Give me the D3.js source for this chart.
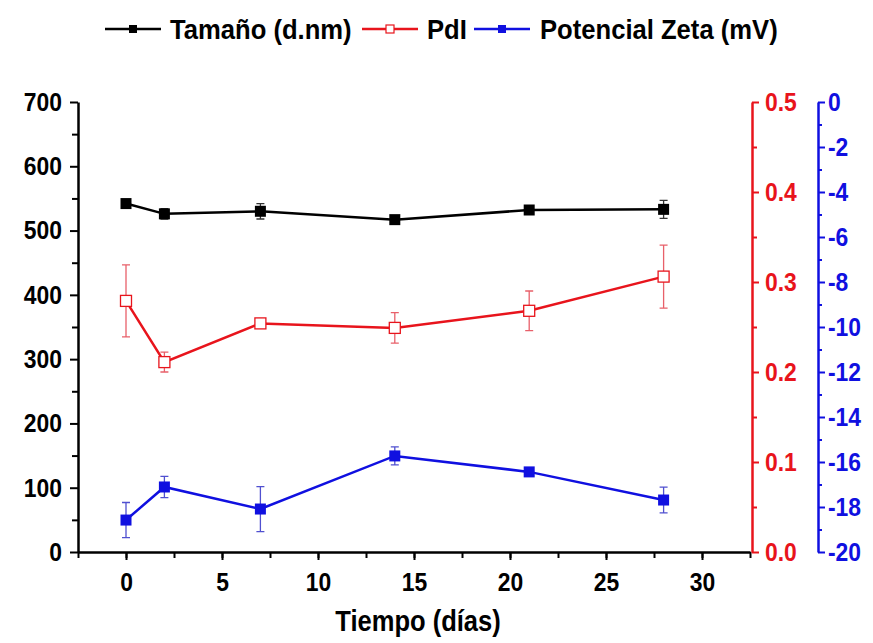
<!DOCTYPE html>
<html><head><meta charset="utf-8">
<script src="https://cdn.jsdelivr.net/npm/d3@7"></script>
<style>
body{margin:0;background:#fff;}
text{font-family:"Liberation Sans",Arial,sans-serif;font-weight:bold;}
</style></head><body>
<svg id="c" width="873" height="643"></svg>
<script>
const days = [0, 2, 7, 14, 21, 28];
const tamano = [542, 526, 530, 517, 532, 533];
const tamanoErr = [5, 8, 12, 5, 5, 14];
const pdl = [0.279, 0.211, 0.254, 0.249, 0.268, 0.306];
const pdlErr = [0.04, 0.011, 0.004, 0.017, 0.022, 0.035];
const zeta = [-18.58, -17.11, -18.09, -15.73, -16.44, -17.69];
const zetaErr = [0.78, 0.47, 1.0, 0.4, 0.1, 0.57];
const xTicks = [0, 5, 10, 15, 20, 25, 30];
const yLeftTicks = [0, 100, 200, 300, 400, 500, 600, 700];
const yRedTicks = [0, 0.1, 0.2, 0.3, 0.4, 0.5];
const yBlueTicks = [-20, -18, -16, -14, -12, -10, -8, -6, -4, -2, 0];
const legendLabels = ["Tamaño (d.nm)", "PdI", "Potencial Zeta (mV)"];

const SX = 0.88;
const svg = d3.select("#c");
const L = 78, R = 750, T = 102, B = 552;
const x = d3.scaleLinear().domain([-2.5, 32.5]).range([L, R]);
const yL = d3.scaleLinear().domain([0, 700]).range([B, T]);
const yR = d3.scaleLinear().domain([0, 0.5]).range([B, T]);
const yZ = d3.scaleLinear().domain([-20, 0]).range([B, T]);

function squeeze(sel, f) {
  const s = f || SX;
  sel.each(function() {
    const t = d3.select(this);
    const xv = +(t.attr("x") || 0);
    t.attr("x", xv / s).attr("transform", `scale(${s},1)`);
  });
}
function styleAxis(g, color) {
  g.select(".domain").attr("stroke", color).attr("stroke-width", 2.5);
  g.selectAll(".tick line").attr("stroke", color).attr("stroke-width", 2);
  g.selectAll(".tick text").attr("fill", color).style("font-size", "26px").call(squeeze);
}
function minor(g, axis, color) {
  g.call(axis).call(s => s.select(".domain").remove())
   .selectAll(".tick line").attr("stroke", color).attr("stroke-width", 2);
  g.selectAll("text").remove();
}

// x axis
const gx = svg.append("g").attr("transform", `translate(0,${B})`);
minor(gx.append("g"), d3.axisBottom(x).tickValues(d3.range(-2.5, 33, 2.5)).tickSize(6).tickSizeOuter(0), "#000");
const gxa = gx.append("g").call(d3.axisBottom(x).tickValues(xTicks).tickSize(8).tickSizeOuter(0).tickPadding(13));
styleAxis(gxa, "#000");

// left axis
const gl = svg.append("g").attr("transform", `translate(${L},0)`);
minor(gl.append("g"), d3.axisLeft(yL).tickValues(d3.range(50, 700, 100)).tickSize(6).tickSizeOuter(0), "#000");
const gla = gl.append("g").call(d3.axisLeft(yL).tickValues(yLeftTicks).tickSize(8).tickSizeOuter(0).tickPadding(8));
styleAxis(gla, "#000");

// red axis
const RX = 752;
const gr = svg.append("g").attr("transform", `translate(${RX},0)`);
minor(gr.append("g"), d3.axisRight(yR).tickValues(d3.range(0.05, 0.5, 0.1)).tickSize(5).tickSizeOuter(0), "#e8141c");
const gra = gr.append("g").call(d3.axisRight(yR).tickValues(yRedTicks).tickSize(7).tickSizeOuter(0).tickPadding(6).tickFormat(d3.format(".1f")));
styleAxis(gra, "#e8141c");

// blue axis
const BX = 818;
const gb = svg.append("g").attr("transform", `translate(${BX},0)`);
minor(gb.append("g"), d3.axisRight(yZ).tickValues(d3.range(-19, 0, 2)).tickSize(4).tickSizeOuter(0), "#1010e0");
const gba = gb.append("g").call(d3.axisRight(yZ).tickValues(yBlueTicks).tickSize(7).tickSizeOuter(0).tickPadding(3).tickFormat(d => d === 0 ? "0" : "-" + Math.abs(d)));
styleAxis(gba, "#1010e0");

// x title
svg.append("text").attr("x", 418).attr("y", 631).attr("text-anchor", "middle")
  .style("font-size", "29px").attr("fill", "#000").text("Tiempo (días)").call(squeeze);

function series(vals, errs, y, color, fill, errColor) {
  const g = svg.append("g");
  const data = days.map((d, i) => ({d, v: vals[i], e: errs[i]}));
  g.selectAll(".eb").data(data).enter().append("path")
    .attr("d", p => {
      const cx = x(p.d), t = y(p.v + p.e), b = y(p.v - p.e);
      return `M${cx - 4},${t}H${cx + 4}M${cx},${t}V${b}M${cx - 4},${b}H${cx + 4}`;
    }).attr("stroke", errColor).attr("stroke-width", 1.3).attr("fill", "none");
  g.append("path").datum(data)
    .attr("d", d3.line().x(p => x(p.d)).y(p => y(p.v)))
    .attr("stroke", color).attr("stroke-width", 2.5).attr("fill", "none");
  g.selectAll(".m").data(data).enter().append("rect")
    .attr("x", p => x(p.d) - 5.5).attr("y", p => y(p.v) - 5.5).attr("width", 11).attr("height", 11)
    .attr("fill", fill).attr("stroke", color).attr("stroke-width", fill === "#fff" ? 1.3 : 0);
}
series(tamano, tamanoErr, yL, "#000", "#000", "#333");
series(pdl, pdlErr, yR, "#e8141c", "#fff", "#e8606a");
series(zeta, zetaErr, yZ, "#1010e0", "#1010e0", "#5050d0");

// legend
const leg = [
  {x: 105, tx: 170, color: "#000", fill: "#000", label: legendLabels[0]},
  {x: 362, tx: 427, color: "#e8141c", fill: "#fff", label: legendLabels[1]},
  {x: 474, tx: 540, color: "#1010e0", fill: "#1010e0", label: legendLabels[2]}
];
leg.forEach(l => {
  const g = svg.append("g").attr("transform", `translate(${l.x},29)`);
  g.append("line").attr("x1", 0).attr("x2", 56).attr("y1", 0).attr("y2", 0).attr("stroke", l.color).attr("stroke-width", 2.5);
  g.append("rect").attr("x", 24).attr("y", -4).attr("width", 8).attr("height", 8).attr("fill", l.fill)
    .attr("stroke", l.color).attr("stroke-width", l.fill === "#fff" ? 1.2 : 0);
  svg.append("text").attr("x", l.tx).attr("y", 39).style("font-size", "28px").attr("fill", "#000")
    .text(l.label).call(squeeze, 0.915);
});
</script>
</body></html>
